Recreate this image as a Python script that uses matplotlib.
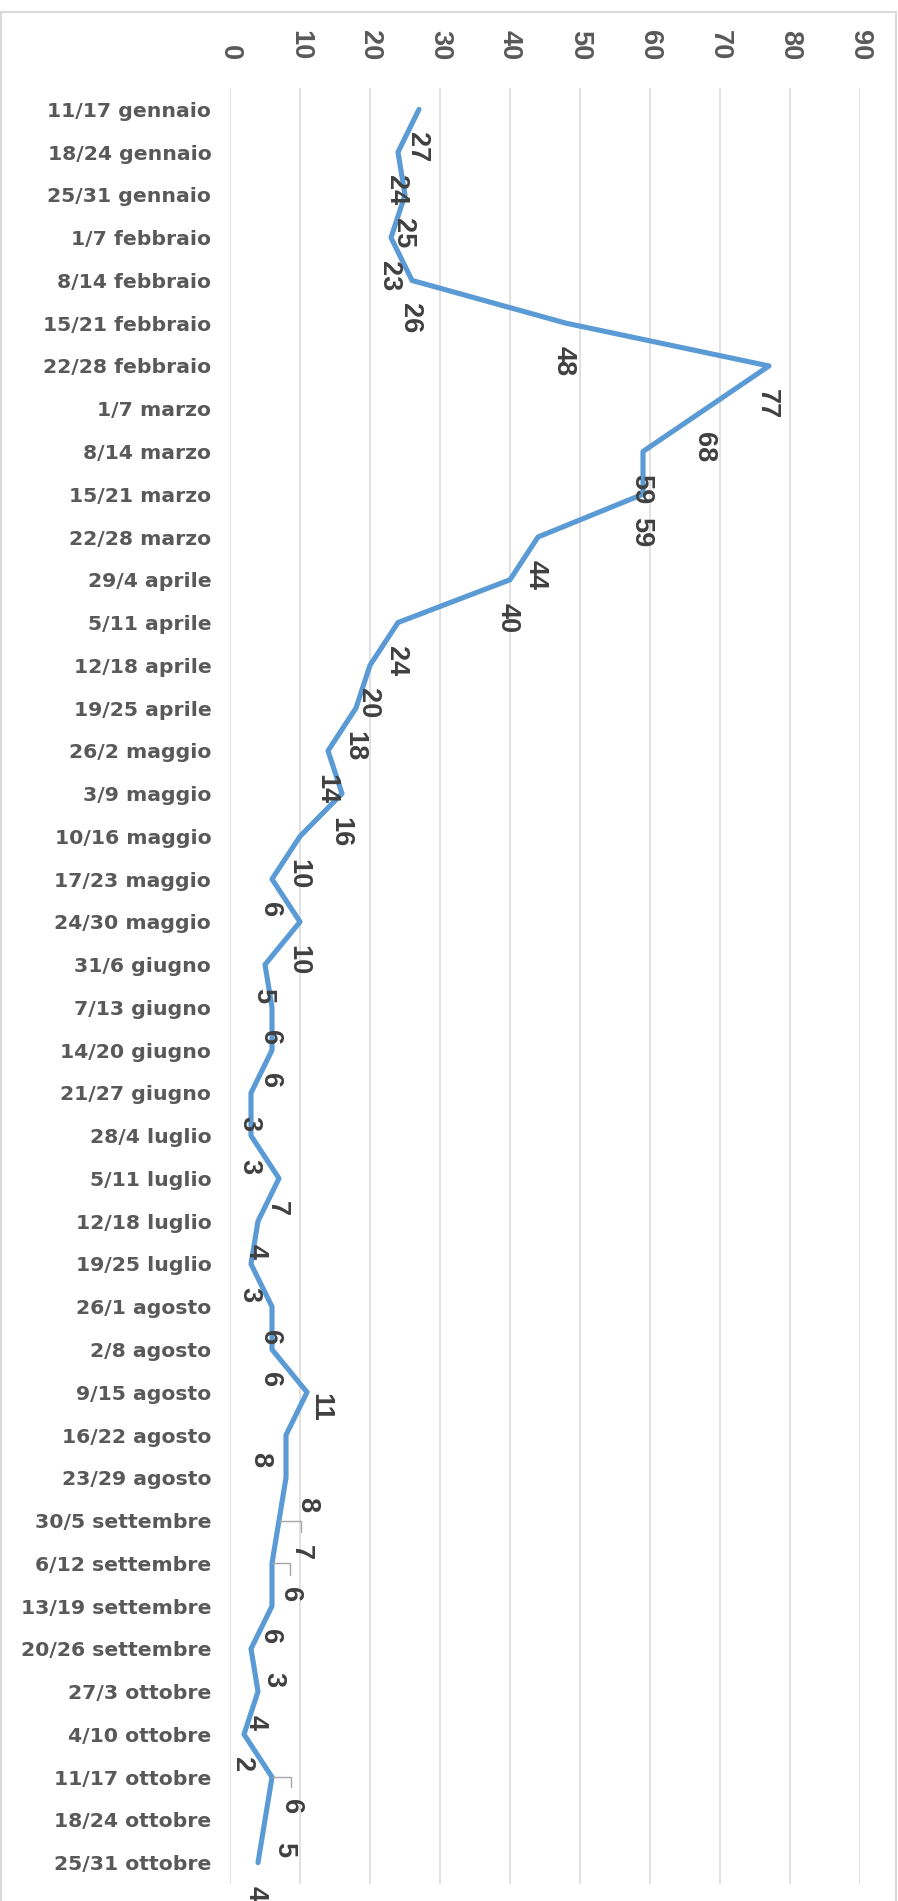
import matplotlib
matplotlib.use("Agg")
import matplotlib.pyplot as plt
from matplotlib.lines import Line2D

weeks = [
    "11/17 gennaio", "18/24 gennaio", "25/31 gennaio", "1/7 febbraio", "8/14 febbraio",
    "15/21 febbraio", "22/28 febbraio", "1/7 marzo", "8/14 marzo", "15/21 marzo",
    "22/28 marzo", "29/4 aprile", "5/11 aprile", "12/18 aprile", "19/25 aprile",
    "26/2 maggio", "3/9 maggio", "10/16 maggio", "17/23 maggio", "24/30 maggio",
    "31/6 giugno", "7/13 giugno", "14/20 giugno", "21/27 giugno", "28/4 luglio",
    "5/11 luglio", "12/18 luglio", "19/25 luglio", "26/1 agosto", "2/8 agosto",
    "9/15 agosto", "16/22 agosto", "23/29 agosto", "30/5 settembre", "6/12 settembre",
    "13/19 settembre", "20/26 settembre", "27/3 ottobre", "4/10 ottobre", "11/17 ottobre",
    "18/24 ottobre", "25/31 ottobre",
]
cases = [
    27, 24, 25, 23, 26, 48, 77, 68, 59, 59,
    44, 40, 24, 20, 18, 14, 16, 10, 6, 10,
    5, 6, 6, 3, 3, 7, 4, 3, 6, 6,
    11, 8, 8, 7, 6, 6, 3, 4, 2, 6,
    5, 4,
]
value_ticks = [0, 10, 20, 30, 40, 50, 60, 70, 80, 90]

# labels that Excel pushed off their usual spot (pixel offsets: right, down)
moved_labels = {30: (13, 1), 31: (-26, 17), 32: (21, 19), 33: (22, 24),
                34: (18, 24), 36: (22, 23), 39: (19, 22), 40: (19, 22)}
with_leader = {33, 34, 39}

W, H = 898, 1901
BLUE = "#5B9BD5"
GRID = "#D9D9D9"
NUM_FONT = "Liberation Sans"

fig = plt.figure(figsize=(W / 100, H / 100), dpi=100)
ax = fig.add_axes([230 / W, (H - 1884) / H, 630 / W, 1796 / H])

pos = list(range(len(weeks)))
ax.plot(cases, pos, color=BLUE, lw=3.7, solid_capstyle="round",
        solid_joinstyle="round", zorder=3, clip_on=False)

ax.set_xlim(0, 90)
ax.set_ylim(len(weeks) - 0.5, -0.5)
ax.set_xticks(value_ticks)
ax.xaxis.tick_top()
ax.set_yticks(pos)
ax.set_yticklabels(weeks)
ax.grid(axis="x", color=GRID, lw=1.1)
ax.set_axisbelow(True)
for s in ax.spines.values():
    s.set_visible(False)

ax.tick_params(axis="x", length=0, pad=20, labelrotation=-90)
ax.tick_params(axis="y", length=0, pad=13.5)
for lbl in ax.get_xticklabels():
    lbl.set_family(NUM_FONT)
    lbl.set_fontsize(19.5)
    lbl.set_fontweight("bold")
    lbl.set_color("#595959")
for lbl in ax.get_yticklabels():
    lbl.set_family("DejaVu Sans")
    lbl.set_fontsize(14.7)
    lbl.set_fontweight("bold")
    lbl.set_color("#595959")

for i, v in enumerate(cases):
    dx, dy = moved_labels.get(i, (-2, 23))
    extra = {}
    if i in with_leader:
        extra["arrowprops"] = dict(arrowstyle="-", color="#A6A6A6", lw=1.0,
                                   connectionstyle="angle,angleA=90,angleB=0,rad=0",
                                   shrinkA=7, shrinkB=0, relpos=(0.5, 1))
    ax.annotate(str(v), xy=(v, i), xytext=(dx, -dy), textcoords="offset pixels",
                rotation=-90, ha="center", va="top", fontsize=19.5, fontweight="bold",
                color="#404040", family=NUM_FONT, annotation_clip=False, **extra)

# chart area border
for xs, ys in [((0.5 / W, 0.5 / W), (0, 1 - 12 / H)),
               ((0.5 / W, 896 / W), (1 - 12 / H, 1 - 12 / H)),
               ((896 / W, 896 / W), (1 - 12 / H, 0))]:
    fig.add_artist(Line2D(xs, ys, color=GRID, lw=1.5))

fig.savefig("out.png", dpi=100)
